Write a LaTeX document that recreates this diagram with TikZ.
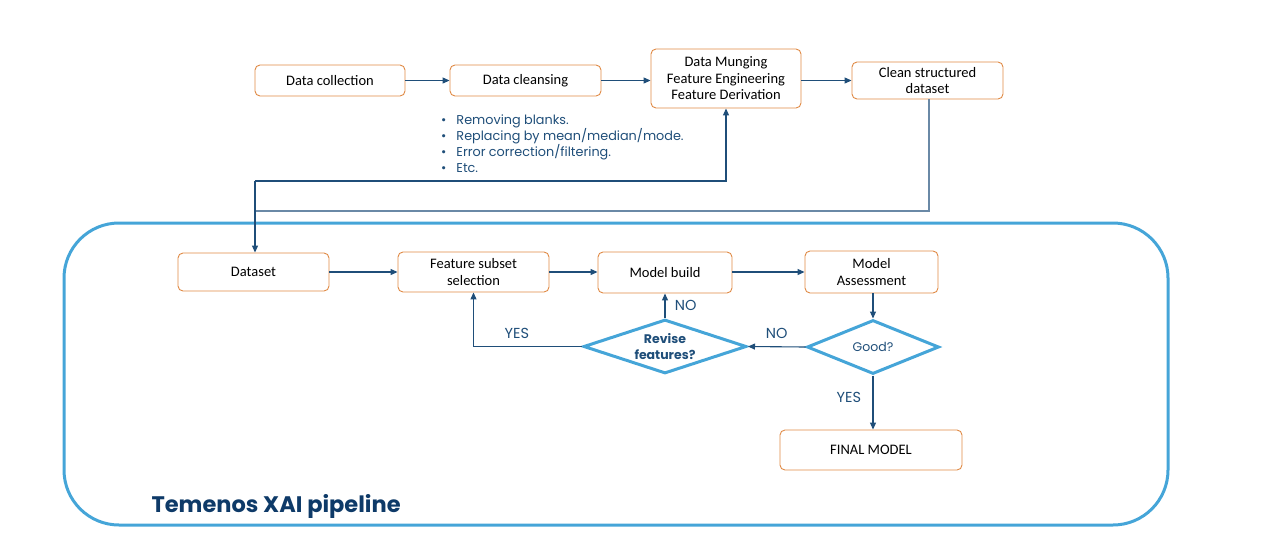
\documentclass[tikz,border=0pt]{standalone}
\usepackage{fontspec}
\setmainfont{Carlito}
\newfontfamily\gothic{Poppins}
\usetikzlibrary{shapes.geometric,arrows.meta}
\definecolor{obox}{HTML}{E08A45}
\definecolor{dblue}{HTML}{1F4E79}
\definecolor{lblue}{HTML}{45A5D8}
\definecolor{gblue}{HTML}{6A89A6}
\definecolor{tblue}{HTML}{0E3A68}
\tikzset{
  x=1pt,y=-1pt,
  ob/.style={draw=obox,line width=0.9pt,rounded corners=5pt,fill=white,align=center,inner sep=0pt,font=\fontsize{14.5}{16.5}\selectfont,text=black},
  conn/.style={draw=dblue,line width=1.1pt,-{Triangle[length=7pt,width=6pt]}},
  dia/.style={diamond,draw=lblue,line width=3pt,aspect=2.6,inner sep=0pt,align=center,text=dblue},
  lab/.style={text=dblue,font=\gothic\fontsize{14.5}{16}\selectfont},
}
\begin{document}
\begin{tikzpicture}
\useasboundingbox (0,0) rectangle (1280,539);
% big container
\draw[lblue,line width=3pt,rounded corners=55pt] (64,223) rectangle (1168,525);
\node[text=tblue,font=\gothic\bfseries\fontsize{22.5}{24}\selectfont,anchor=west] (title) at (148,506) {Temenos XAI pipeline};
% top row
\node[ob,minimum width=150pt,minimum height=31pt] (dc) at (330,80.5) {Data collection};
\node[ob,minimum width=151pt,minimum height=31pt] (dcl) at (525.5,80.5) {Data cleansing};
\node[ob,minimum width=150pt,minimum height=59pt] (mung) at (726,78.5) {Data Munging\\Feature Engineering\\Feature Derivation};
\node[ob,minimum width=151pt,minimum height=37pt] (csd) at (927.5,80.5) {Clean structured\\dataset};
\node[lab,anchor=north west,align=left,font=\gothic\fontsize{12.8}{16}\selectfont,inner sep=0pt] (bul) at (441,114.5) {%
\textbullet\hspace{10pt}Removing blanks.\\
\textbullet\hspace{10pt}Replacing by mean/median/mode.\\
\textbullet\hspace{10pt}Error correction/filtering.\\
\textbullet\hspace{10pt}Etc.};
% bottom row
\node[ob,minimum width=151pt,minimum height=38pt] (ds) at (253.5,272) {Dataset};
\node[ob,minimum width=151pt,minimum height=40pt] (fss) at (473.5,272) {Feature subset\\selection};
\node[ob,minimum width=134pt,minimum height=41pt] (mb) at (665,272.5) {Model build};
\node[ob,minimum width=133pt,minimum height=42pt] (ma) at (871.5,272) {Model\\Assessment};
\node[ob,minimum width=182pt,minimum height=40pt] (fm) at (871,450) {FINAL MODEL};
\node[dia,minimum width=132pt,minimum height=54pt,font=\gothic\fontsize{12.5}{15}\selectfont] (good) at (873,347) {Good?};
\node[dia,minimum width=163pt,minimum height=54pt,font=\gothic\bfseries\fontsize{12.5}{16}\selectfont] (rev) at (665,346.5) {Revise\\features?};
% connectors top
\draw[conn] (dc) -- (dcl);
\draw[conn] (dcl) -- (mung.west|-dcl);
\draw[conn] (mung.east|-csd) -- (csd);
\coordinate (j1) at (255,181);
\coordinate (j2) at (929,211);
\draw[conn] (j1) -| (mung.south);
\draw[gblue,line width=1.6pt] (csd.south-|j2) -- (j2) -- (255,211);
\draw[conn] (j1) -- (ds.north-|j1);
% connectors bottom
\draw[conn] (ds) -- (fss);
\draw[conn] (fss) -- (mb.west|-fss);
\draw[conn] (mb.east|-ma) -- (ma);
\draw[conn] (ma.south-|good.north) -- (good.north);
\draw[conn] (good.west) -- node[lab,above=4pt] (no1) {NO} (rev.east);
\draw[conn] (rev.north) -- node[lab,right=6pt] (no2) {NO} (mb.south);
\draw[conn] (rev.west) -| node[lab,pos=0.3,above=4pt] (yes1) {YES} (fss.south);
\draw[conn] (good.south) -- node[lab,left=8pt,pos=0.4] (yes2) {YES} (good.south|-fm.north);
\end{tikzpicture}
\end{document}
